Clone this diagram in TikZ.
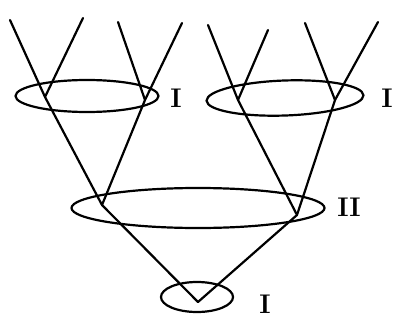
\documentclass[tikz,border=0pt]{standalone}
\usepackage{tikz}
\usetikzlibrary{shapes.geometric}
\tikzset{
    leg/.style={line width=2.2pt, black, line join=round, line cap=round},
    ring/.style={ellipse, draw, line width=2.2pt, inner sep=0pt},
    tag/.style={font=\fontsize{27}{30}\selectfont\bfseries, inner sep=0pt}
}
\begin{document}
\begin{tikzpicture}[x=1pt, y=-1pt]
  \useasboundingbox (0,0) rectangle (406,326);

  % Free ends at the top
  \coordinate (t1) at (10,20);
  \coordinate (t2) at (83,18);
  \coordinate (t3) at (118,22);
  \coordinate (t4) at (182,23);
  \coordinate (t5) at (208,25);
  \coordinate (t6) at (268,30);
  \coordinate (t7) at (305,23);
  \coordinate (t8) at (378,22);

  % Vertices
  \coordinate (va) at (45,97);
  \coordinate (vb) at (145,100);
  \coordinate (vc) at (238,100);
  \coordinate (vd) at (335,100);
  \coordinate (ve) at (102,205);
  \coordinate (vf) at (297,215);
  \coordinate (vg) at (198,302);

  % Rings round the vertices
  \node[ring, minimum width=143pt, minimum height=32pt] (ringL) at (87,96) {};
  \node[ring, minimum width=157pt, minimum height=35pt, rotate=2] (ringR) at (285,98) {};
  \node[ring, minimum width=253pt, minimum height=40pt] (ringM) at (198,208) {};
  \node[ring, minimum width=72pt, minimum height=30pt] (ringB) at (197,297) {};

  % Labels
  \node[tag] (labL) at (176,98) {I};
  \node[tag] (labR) at (387,98) {I};
  \node[tag] (labM) at (349,207) {II};
  \node[tag] (labB) at (265,304) {I};

  % Legs of the tree
  \draw[leg] (t1) -- (va) -- (ve) -- (vg);
  \draw[leg] (t2) -- (va);
  \draw[leg] (t3) -- (vb);
  \draw[leg] (t4) -- (vb) -- (ve);
  \draw[leg] (t5) -- (vc) -- (vf) -- (vg);
  \draw[leg] (t6) -- (vc);
  \draw[leg] (t7) -- (vd);
  \draw[leg] (t8) -- (vd) -- (vf);
\end{tikzpicture}
\end{document}
